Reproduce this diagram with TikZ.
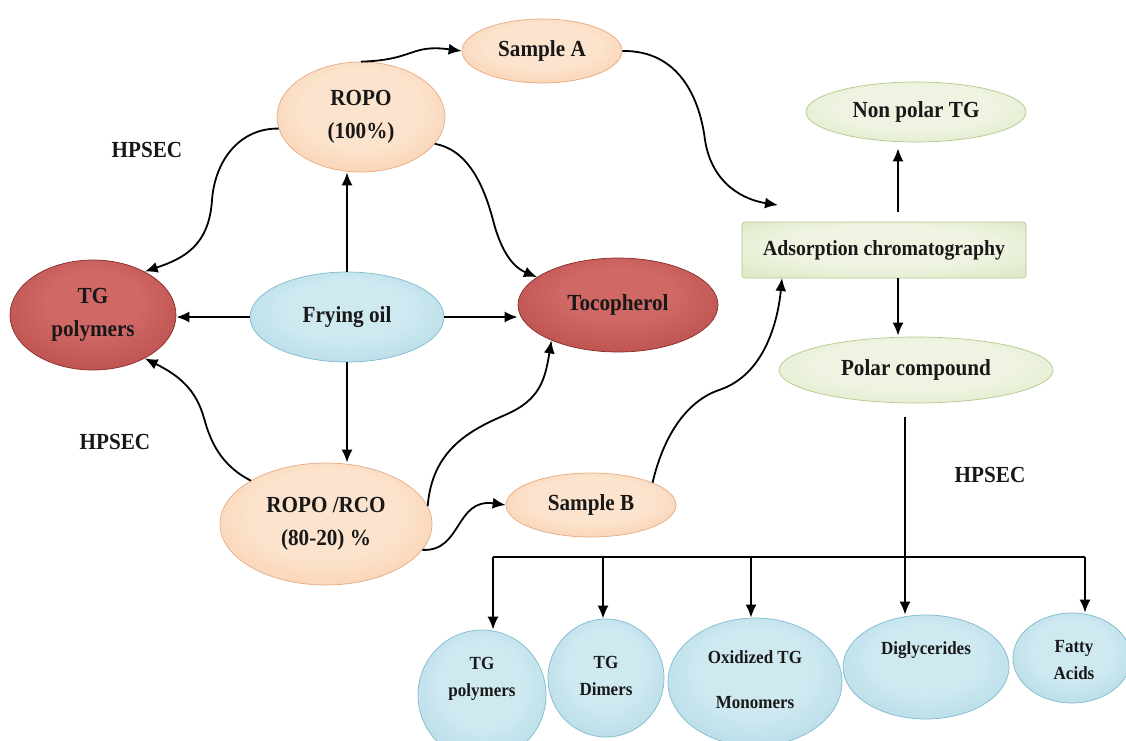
\documentclass[tikz,border=0pt]{standalone}
\usepackage{fontspec}
\setmainfont{Liberation Serif}
\newfontfamily\condfont[FakeStretch=0.92]{Liberation Serif}
\usetikzlibrary{shapes.geometric,arrows.meta}
\definecolor{peachIn}{HTML}{FCE3CD}
\definecolor{peachOut}{HTML}{F4B98C}
\definecolor{peachBd}{HTML}{E6AB82}
\definecolor{redIn}{HTML}{D06865}
\definecolor{redOut}{HTML}{A53936}
\definecolor{redBd}{HTML}{8A2C29}
\definecolor{blueIn}{HTML}{CFE9F1}
\definecolor{blueOut}{HTML}{98CBDB}
\definecolor{blueBd}{HTML}{80BBCD}
\definecolor{greenIn}{HTML}{EFF4E2}
\definecolor{greenOut}{HTML}{CFDFAE}
\definecolor{greenBd}{HTML}{B3C98A}
\definecolor{inkc}{HTML}{181818}
\pgfdeclareradialshading{shPeach}{\pgfpoint{0bp}{6bp}}{color(0bp)=(peachIn); color(18bp)=(peachIn); color(50bp)=(peachOut)}
\pgfdeclareradialshading{shRed}{\pgfpoint{0bp}{8bp}}{color(0bp)=(redIn); color(14bp)=(redIn); color(50bp)=(redOut)}
\pgfdeclareradialshading{shBlue}{\pgfpoint{0bp}{6bp}}{color(0bp)=(blueIn); color(16bp)=(blueIn); color(50bp)=(blueOut)}
\pgfdeclareradialshading{shGreen}{\pgfpoint{0bp}{6bp}}{color(0bp)=(greenIn); color(18bp)=(greenIn); color(50bp)=(greenOut)}
\begin{document}
\begin{tikzpicture}[x=1pt,y=-1pt,
  txt/.style={font=\condfont\fontsize{23}{33}\selectfont\bfseries, align=center, text=inkc},
  stxt/.style={font=\condfont\fontsize{18.5}{27}\selectfont\bfseries, align=center, text=inkc},
  peach/.style={ellipse, draw=peachBd, line width=0.7pt, shading=shPeach, inner sep=0pt, txt},
  redn/.style={ellipse, draw=redBd, line width=0.7pt, shading=shRed, inner sep=0pt, txt},
  bluen/.style={ellipse, draw=blueBd, line width=0.7pt, shading=shBlue, inner sep=0pt, txt},
  greenn/.style={ellipse, draw=greenBd, line width=0.7pt, shading=shGreen, inner sep=0pt, txt},
  greenbox/.style={rectangle, rounded corners=3pt, draw=greenBd, line width=0.7pt, shading=shGreen, inner sep=0pt, txt},
  arr/.style={line width=1.8pt, draw=black, -{Latex[length=13pt,width=11pt]}},
  ln/.style={line width=1.8pt, draw=black}
]
\fill[white] (0,0) rectangle (1126,740);
\useasboundingbox (0,0) rectangle (1126,740);
\clip (0,0) rectangle (1126,740);

% main nodes
\node[peach, minimum width=160pt, minimum height=64pt] (sampleA) at (542,51) {Sample A};
\node[peach, minimum width=168pt, minimum height=110pt] (ropo) at (361,117) {ROPO\\(100\%)};
\node[bluen, minimum width=194pt, minimum height=90pt] (fry) at (347,317) {Frying oil};
\node[redn, minimum width=166pt, minimum height=110pt] (tgp) at (93,315) {TG\\polymers};
\node[redn, minimum width=200pt, minimum height=94pt] (toco) at (618,305) {Tocopherol};
\node[peach, minimum width=212pt, minimum height=122pt] (roporco) at (326,524) {ROPO /RCO\\(80-20) \%};
\node[peach, minimum width=170pt, minimum height=64pt] (sampleB) at (591,505) {Sample B};
\node[greenbox, minimum width=284pt, minimum height=56pt, font=\condfont\fontsize{21.5}{26}\selectfont\bfseries] (ads) at (884,250) {Adsorption chromatography};
\node[greenn, minimum width=220pt, minimum height=60pt] (nonpolar) at (916,112) {Non polar TG};
\node[greenn, minimum width=274pt, minimum height=66pt] (polar) at (916,370) {Polar compound};

% bottom nodes
\node[bluen, minimum width=128pt, minimum height=130pt] (b1) at (482,695) {};
\node[stxt] (t1) at (482,679) {TG\\polymers};
\node[bluen, minimum width=116pt, minimum height=118pt] (b2) at (606,678) {};
\node[stxt] (t2) at (606,676) {TG\\Dimers};
\node[bluen, minimum width=174pt, minimum height=128pt] (b3) at (755,682) {};
\node[stxt, font=\condfont\fontsize{18.5}{45}\selectfont\bfseries] (t3) at (755,680) {Oxidized TG\\Monomers};
\node[bluen, minimum width=166pt, minimum height=104pt] (b4) at (926,667) {};
\node[stxt] (t4) at (926,650) {Diglycerides};
\node[bluen, minimum width=118pt, minimum height=90pt] (b5) at (1072,658) {};
\node[stxt] (t5) at (1074,660) {Fatty\\Acids};

% labels
\node[txt] (h1) at (147,150) {HPSEC};
\node[txt] (h2) at (115,442) {HPSEC};
\node[txt] (h3) at (990,475) {HPSEC};

% straight arrows from frying oil
\draw[arr] (fry.north) -- (fry.north |- ropo.south);
\draw[arr] (fry.south) -- (fry.south |- roporco.north);
\draw[arr] (fry.west) -- (fry.west -| tgp.east);
\draw[arr] (fry.east) -- (fry.east -| toco.west);

% curved connectors
\draw[arr] (ropo.north) .. controls (415,60) and (410,44) .. (sampleA.west);
\draw[arr] (ropo.188) .. controls (240,128) and (215,160) .. (212,200)
           .. controls (209,245) and (185,258) .. (tgp.40);
\draw[arr] (ropo.-20) .. controls (470,150) and (485,190) .. (493,220)
           .. controls (502,255) and (515,268) .. (toco.161);
\draw[arr] (roporco.150) .. controls (220,465) and (210,440) .. (204,418)
           .. controls (196,390) and (180,376) .. (tgp.-40);
\draw[arr] (roporco.10) .. controls (432,450) and (470,430) .. (505,415)
           .. controls (540,400) and (545,380) .. (toco.208);
\draw[arr] (roporco.-15) .. controls (462,552) and (455,498) .. (sampleB.west);

\coordinate (adsIn) at (778,205);
\coordinate (adsB) at (782,278);
\draw[arr] (sampleA.east) .. controls (680,50) and (700,100) .. (705,140)
           .. controls (712,185) and (745,200) .. (adsIn);
\draw[arr] (sampleB.20) .. controls (665,430) and (690,400) .. (719,390)
           .. controls (765,375) and (778,320) .. (adsB);

% adsorption outputs
\coordinate (adsTop) at ([xshift=14pt]ads.north);
\coordinate (adsBot) at ([xshift=14pt]ads.south);
\draw[arr, shorten <=10pt, shorten >=6pt] (adsTop) -- (adsTop |- nonpolar.south);
\draw[arr, shorten >=1pt] (adsBot) -- (adsBot |- polar.north);

% polar compound split
\coordinate (pc) at (905,417);
\draw[arr] (pc) -- (pc |- b4.north);
\coordinate (bus1) at (493,557);
\coordinate (bus2) at (603,557);
\coordinate (bus3) at (751,557);
\coordinate (bus5) at (1085,557);
\draw[ln] (bus1) -- (bus5);
\draw[arr] (bus1) -- (bus1 |- b1.north);
\draw[arr] (bus2) -- (bus2 |- b2.north);
\draw[arr] (bus3) -- (bus3 |- b3.north);
\draw[arr] (bus5) -- (bus5 |- b5.north);
\end{tikzpicture}
\end{document}
